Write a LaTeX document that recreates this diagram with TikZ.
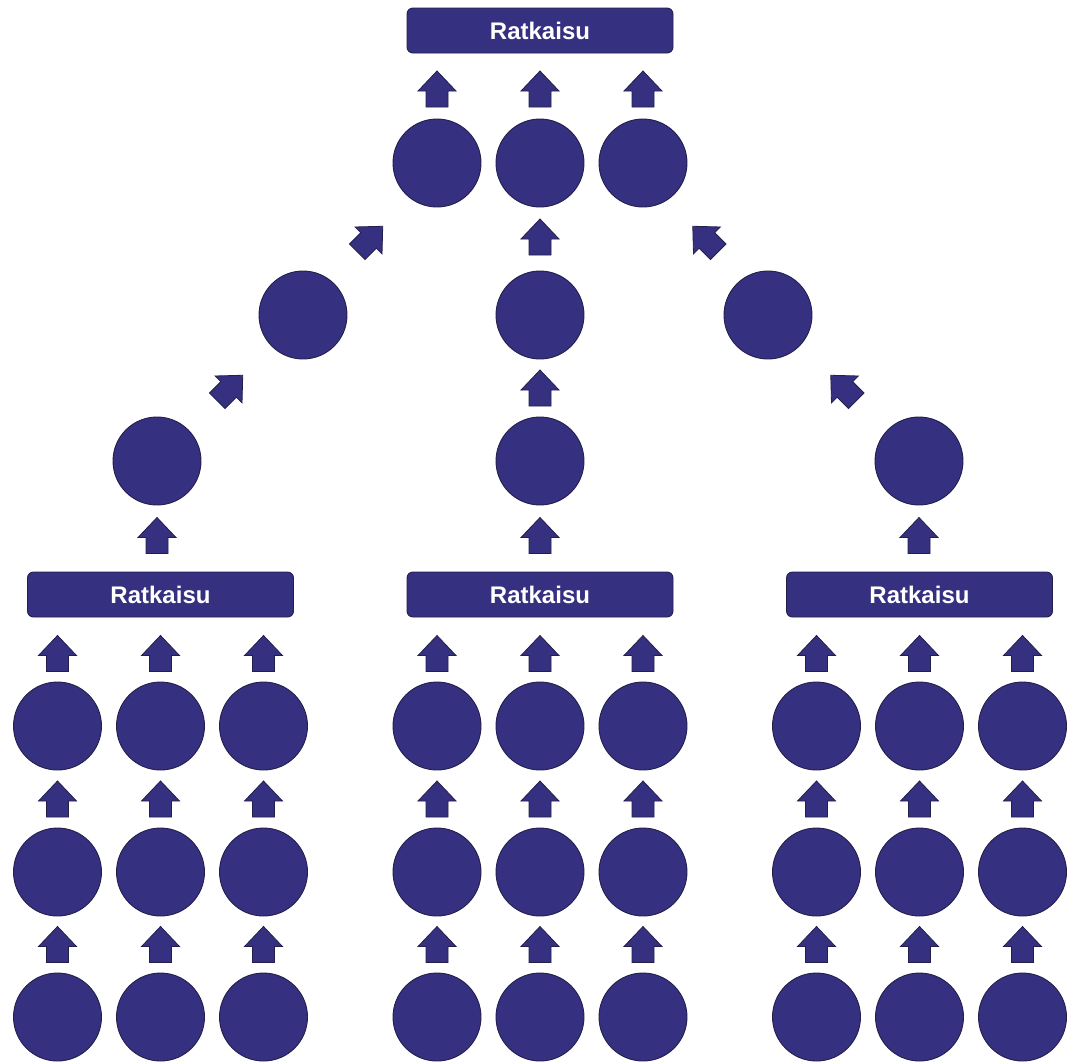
\documentclass[tikz,border=0pt]{standalone}
\usepackage{fontspec}
\setmainfont{Liberation Sans}
\usetikzlibrary{calc}
\definecolor{ink}{RGB}{54,48,128}
\definecolor{edge}{RGB}{35,31,75}
\tikzset{
  x=1pt, y=1pt,
  ball/.style={circle, fill=ink, draw=edge, line width=0.9pt, minimum size=88pt, inner sep=0pt},
  banner/.style={rounded corners=6pt, fill=ink, draw=edge, line width=0.9pt, minimum width=266pt, minimum height=45pt, inner sep=0pt, text=white, font=\bfseries\fontsize{24}{27}\selectfont},
  uparr/.pic={\filldraw[fill=ink, draw=edge, line width=0.8pt] (-11,-18) -- (11,-18) -- (11,-2) -- (19,-2) -- (0,18) -- (-19,-2) -- (-11,-2) -- cycle;}
}
\begin{document}
\begin{tikzpicture}
\useasboundingbox (0,0) rectangle (1076,-1061);
\clip (0,0) rectangle (1076,-1061);
% top level
\node[banner] (top) at (540,-30.5) {Ratkaisu};
\node[ball] (t1) at (437,-163) {};
\node[ball] (t2) at (540,-163) {};
\node[ball] (t3) at (643,-163) {};
\foreach \c in {t1,t2,t3} \pic at ($(\c.north)!0.5!(\c.north |- top.south)+(0,-3)$) {uparr};
% middle chains
\node[ball] (l2) at (303,-315) {};
\node[ball] (l3) at (157,-461) {};
\node[ball] (m2) at (540,-315) {};
\node[ball] (m3) at (540,-461) {};
\node[ball] (r2) at (768,-315) {};
\node[ball] (r3) at (919,-461) {};
\pic[rotate=-45] at ($(l2.center)!0.5!(t1.center)$) {uparr};
\pic[rotate=-45] at ($(l3.center)!0.5!(l2.center)$) {uparr};
\pic[rotate=45] at ($(r2.center)!0.5!(t3.center)$) {uparr};
\pic[rotate=45] at ($(r3.center)!0.5!(r2.center)$) {uparr};
\pic at ($(m2.north)!0.5!(t2.south)+(0,2)$) {uparr};
\pic at ($(m3.north)!0.5!(m2.south)$) {uparr};
% bottom groups
\foreach \g/\x/\up in {L/160.5/l3, M/540/m3, R/919.5/r3} {
  \node[banner] (b\g) at (\x,-594.5) {Ratkaisu};
  \pic at ($(\up.south |- b\g.north)!0.5!(\up.south)+(0,3)$) {uparr};
  \foreach \i/\dx in {1/-103, 2/0, 3/103} {
    \node[ball] (\g\i a) at (\x+\dx,-726) {};
    \node[ball] (\g\i b) at (\x+\dx,-872) {};
    \node[ball] (\g\i c) at (\x+\dx,-1017) {};
    \pic at ($(\g\i a.north)!0.5!(\g\i a.north |- b\g.south)+(0,-4)$) {uparr};
    \pic at ($(\g\i b.north)!0.5!(\g\i a.south)$) {uparr};
    \pic at ($(\g\i c.north)!0.5!(\g\i b.south)$) {uparr};
  }
}
\end{tikzpicture}
\end{document}
